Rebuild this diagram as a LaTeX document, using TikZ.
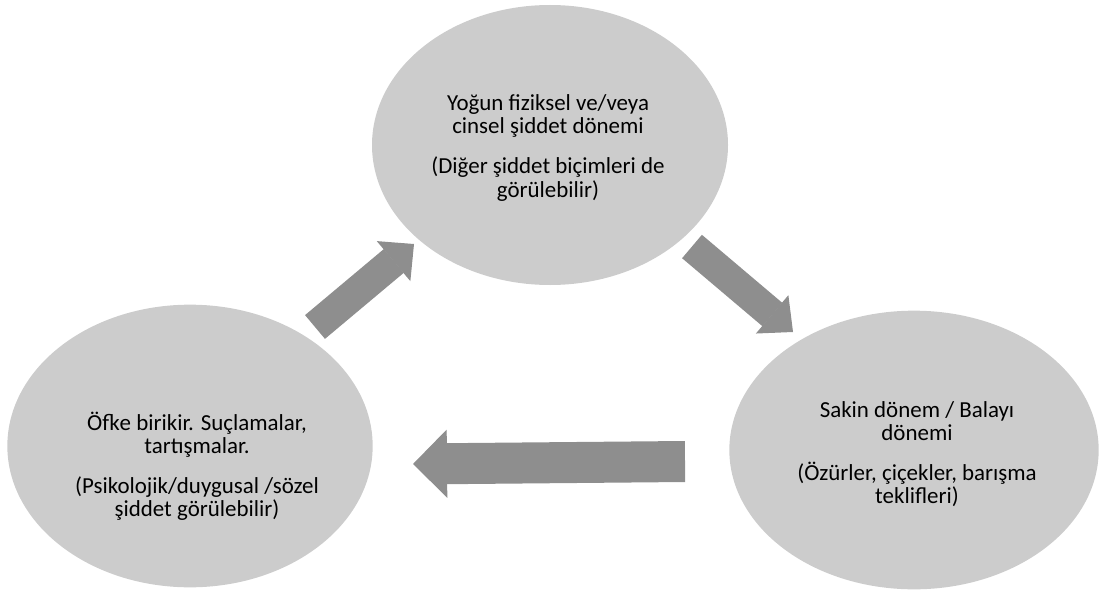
\documentclass[tikz,border=0pt]{standalone}
\usepackage{fontspec}
\setmainfont{Carlito}
\usetikzlibrary{shapes.geometric,arrows.meta}

\definecolor{phasegray}{HTML}{CCCCCC}
\definecolor{arrowgray}{HTML}{8E8E8E}

\tikzset{
	phase/.style={ellipse, fill=phasegray, draw=none, inner sep=0pt},
	phasetext/.style={align=center, font=\fontsize{17.2}{17.4}\selectfont, text=black},
	blockarrow/.style={draw=arrowgray, line cap=butt}
}

\begin{document}
\begin{tikzpicture}[x=0.75pt, y=-0.75pt]
	
	% Frame
	\useasboundingbox (0,0) rectangle (1099,592);
	
	%% PHASES
	% Explosion
	\node[phase, minimum width=267pt, minimum height=210pt] (explosion) at (550,145) {};
	\node[phasetext] (explosiontext) at (548,148)
		{Yoğun fiziksel ve/veya\\ cinsel şiddet dönemi\\[12.6pt] (Diğer şiddet biçimleri de\\ görülebilir)};
	
	% Honeymoon
	\node[phase, minimum width=277pt, minimum height=209pt] (honeymoon) at (914,450) {};
	\node[phasetext] (honeymoontext) at (917,454)
		{Sakin dönem / Balayı\\ dönemi\\[12.6pt] (Özürler, çiçekler, barışma\\ teklifleri)};
	
	% Tension
	\node[phase, minimum width=274pt, minimum height=212pt] (tension) at (190,446) {};
	\node[phasetext] (tensiontext) at (197,466)
		{Öfke birikir. Suçlamalar,\\ tartışmalar.\\[12.6pt] (Psikolojik/duygusal /sözel\\ şiddet görülebilir)};
	
	%% ARROWS
	% Ends
	\coordinate (tension-out)    at (315,327);
	\coordinate (explosion-in)   at (414,244);
	\coordinate (explosion-out)  at (692,246.5);
	\coordinate (honeymoon-in)   at (793,332);
	\coordinate (honeymoon-out)  at (685,461.5);
	\coordinate (tension-in)     at (413,464);
	
	% Tension -> Explosion
	\draw [blockarrow, line width=23.25pt, -{Triangle[width=39pt, length=20pt, line width=1pt]}]
		(tension-out) -- (explosion-in);
	% Explosion -> Honeymoon
	\draw [blockarrow, line width=23pt, -{Triangle[width=37.5pt, length=20.5pt, line width=1pt]}]
		(explosion-out) -- (honeymoon-in);
	% Honeymoon -> Tension
	\draw [blockarrow, line width=30.75pt, -{Triangle[width=51pt, length=25.5pt, line width=1pt]}]
		(honeymoon-out) -- (tension-in);
	
\end{tikzpicture}
\end{document}
